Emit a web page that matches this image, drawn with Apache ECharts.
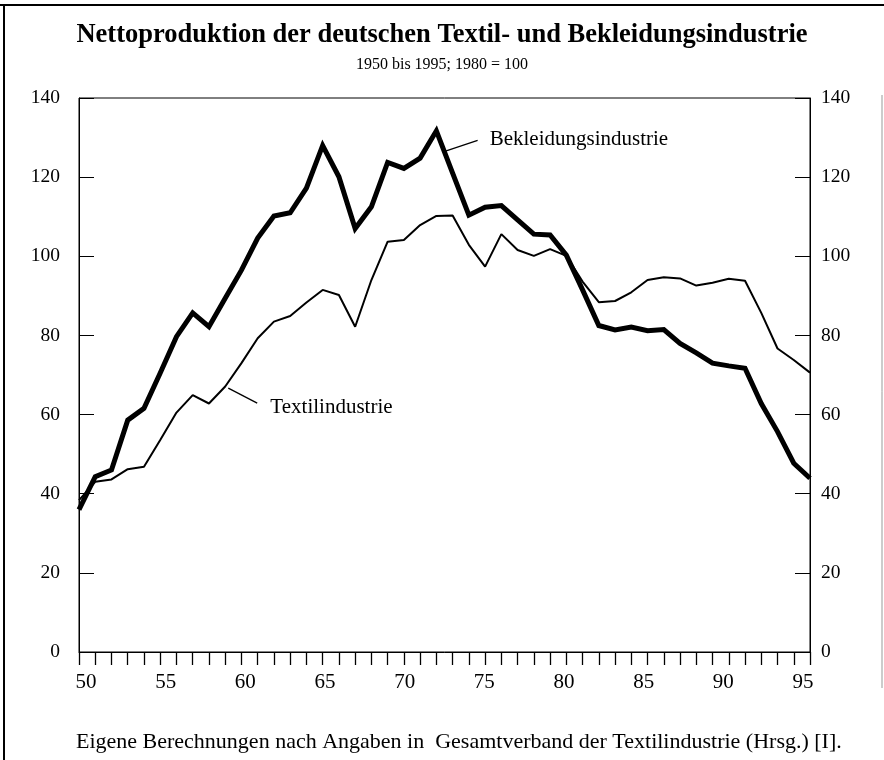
<!DOCTYPE html>
<html>
<head>
<meta charset="utf-8">
<script src="https://cdn.jsdelivr.net/npm/echarts@6/dist/echarts.min.js"></script>
<style>html,body{margin:0;padding:0;background:#fff}#c{width:884px;height:760px}</style>
</head>
<body>
<div id="c"></div>
<script>
const years = [50,51,52,53,54,55,56,57,58,59,60,61,62,63,64,65,66,67,68,69,70,71,72,73,74,75,76,77,78,79,80,81,82,83,84,85,86,87,88,89,90,91,92,93,94,95];
const bekleidung = [36,44.3,46,58.6,61.6,70.5,79.7,85.7,82.2,89.4,96.5,104.6,110.2,111,117.2,128,120.1,107,112.5,123.7,122.2,124.8,131.7,121,110.4,112.4,112.8,109.2,105.6,105.4,100.3,91.5,82.5,81.4,82.1,81.2,81.5,78,75.6,73,72.3,71.7,62.8,55.7,47.7,43.9];
const textil = [38.4,43,43.6,46.2,46.8,53.6,60.5,64.9,62.8,67.1,73,79.3,83.5,84.9,88.3,91.5,90.2,82.2,94,103.7,104.1,107.9,110.2,110.3,102.9,97.4,105.6,101.6,100.1,101.8,100.1,93.6,88.4,88.7,90.9,94,94.7,94.4,92.6,93.3,94.3,93.8,85.7,76.7,73.8,70.6];
const xLabels = [50,55,60,65,70,75,80,85,90,95];
const yTicks = [0,20,40,60,80,100,120,140];
const titleText = 'Nettoproduktion der deutschen Textil- und Bekleidungsindustrie';
const subtitleText = '1950 bis 1995; 1980 = 100';
const footText = 'Eigene Berechnungen nach Angaben in  Gesamtverband der Textilindustrie (Hrsg.) [I].';
// annotations: [leader start x,y], [leader end x,y], [text x,y]
const annBekleidung = {name:'Bekleidungsindustrie', from:[72.56,126.6], to:[74.54,129.3], text:[75.28,129.4]};
const annTextil = {name:'Textilindustrie', from:[59.19,66.7], to:[60.97,62.9], text:[61.78,61.7]};

const FONT = '"Liberation Serif","DejaVu Serif",serif';
const chart = echarts.init(document.getElementById('c'));
const pairs = a => years.map((y,i)=>[y,a[i]]);
const yAxisCommon = {
  type:'value', min:0, max:140, interval:20,
  axisLine:{show:true, lineStyle:{color:'#000', width:1}},
  axisTick:{show:true, inside:true, length:15, lineStyle:{color:'#000', width:1}},
  splitLine:{show:false},
  axisLabel:{color:'#000', fontFamily:FONT, fontSize:19.5}
};
chart.setOption({
  animation:false,
  backgroundColor:'#fff',
  title:[
    {text:titleText, left:'center', top:17, textStyle:{fontFamily:FONT, fontWeight:'bold', fontSize:26.5, color:'#000'}},
    {text:subtitleText, left:'center', top:52, textStyle:{fontFamily:FONT, fontWeight:'normal', fontSize:16, color:'#000'}},
    {text:footText, left:71, top:726, textStyle:{fontFamily:FONT, fontWeight:'normal', fontSize:22, color:'#000'}}
  ],
  grid:{left:79, right:74, top:98, bottom:108, show:true, borderColor:'#000', borderWidth:1, containLabel:false},
  xAxis:[
    {type:'value', min:50, max:95, interval:1, position:'bottom',
     axisLine:{show:true, lineStyle:{color:'#000', width:1}},
     axisTick:{show:true, inside:false, length:13, lineStyle:{color:'#000', width:1.3}},
     axisLabel:{show:false}, splitLine:{show:false}},
    {type:'value', min:49.56, max:95.44, position:'bottom', gridIndex:0,
     axisLine:{show:false}, axisTick:{show:false}, splitLine:{show:false},
     axisLabel:{show:true, customValues:xLabels, color:'#000', fontFamily:FONT, fontSize:21, margin:20}}
  ],
  yAxis:[
    Object.assign({}, yAxisCommon, {position:'left', axisLabel:Object.assign({}, yAxisCommon.axisLabel, {margin:19})}),
    Object.assign({}, yAxisCommon, {position:'right', axisLabel:Object.assign({}, yAxisCommon.axisLabel, {margin:11})})
  ],
  series:[
    {name:'Textilindustrie', type:'line', xAxisIndex:0, yAxisIndex:0, data:pairs(textil), symbol:'none',
     lineStyle:{color:'#000', width:2}, z:3},
    {name:'Bekleidungsindustrie', type:'line', xAxisIndex:0, yAxisIndex:0, data:pairs(bekleidung), symbol:'none',
     lineStyle:{color:'#000', width:5, join:'miter'}, z:4}
  ]
});

function ann(a){
  const p1 = chart.convertToPixel({xAxisIndex:0, yAxisIndex:0}, a.from);
  const p2 = chart.convertToPixel({xAxisIndex:0, yAxisIndex:0}, a.to);
  const pt = chart.convertToPixel({xAxisIndex:0, yAxisIndex:0}, a.text);
  return [
    {type:'line', shape:{x1:p1[0], y1:p1[1], x2:p2[0], y2:p2[1]}, style:{stroke:'#000', lineWidth:1.3}, z:10},
    {type:'text', x:pt[0], y:pt[1], style:{text:a.name, fill:'#000', font:'21px '+FONT, textVerticalAlign:'middle', textAlign:'left'}, z:10}
  ];
}
chart.setOption({
  graphic:[].concat(
    ann(annBekleidung), ann(annTextil),
    [
      {type:'line', shape:{x1:0, y1:5, x2:884, y2:5}, style:{stroke:'#000', lineWidth:2}},
      {type:'line', shape:{x1:4, y1:5, x2:4, y2:760}, style:{stroke:'#000', lineWidth:2}},
      {type:'line', shape:{x1:882, y1:95, x2:882, y2:688}, style:{stroke:'#999', lineWidth:1}}
    ]
  )
});
</script>
</body>
</html>
